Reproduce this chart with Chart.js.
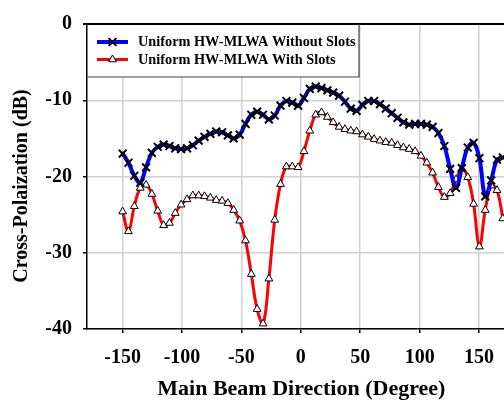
<!DOCTYPE html>
<html><head><meta charset="utf-8">
<script src="https://cdn.jsdelivr.net/npm/chart.js@4/dist/chart.umd.min.js"></script>
<style>html,body{margin:0;padding:0;background:#fff}#wrap{width:504px;height:400px}</style>
</head><body><div id="wrap"><canvas id="c" width="504" height="400"></canvas></div>
<script>
const angles = [-150,-145.1,-140.2,-135.2,-130.3,-125.4,-120.5,-115.5,-110.6,-105.7,
  -100.8,-95.8,-90.9,-86,-81.1,-76.2,-71.2,-66.3,-61.4,-56.5,
  -51.5,-46.6,-41.7,-36.8,-31.8,-26.9,-22,-17.1,-12.2,-7.2,
  -2.3,2.6,7.5,12.5,17.4,22.3,27.2,32.2,37.1,42,
  46.9,51.8,56.8,61.7,66.6,71.5,76.5,81.4,86.3,91.2,
  96.2,101.1,106,110.9,115.8,120.8,125.7,130.6,135.5,140.5,
  145.4,150.3,155.2,160.2,165.1,170];
const withoutSlots = [-17.0,-18.2,-19.9,-20.8,-18.8,-16.9,-16.1,-15.8,-16.0,-16.3,
  -16.4,-16.3,-15.9,-15.3,-14.8,-14.4,-14.1,-14.2,-14.6,-15.0,
  -14.5,-13.1,-11.9,-11.5,-11.9,-12.5,-12.0,-10.7,-10.1,-10.3,
  -10.7,-9.7,-8.5,-8.2,-8.4,-8.7,-9.0,-9.4,-10.2,-11.1,
  -11.4,-10.6,-10.1,-10.1,-10.5,-11.1,-11.7,-12.3,-12.9,-13.2,
  -13.1,-13.1,-13.2,-13.5,-14.3,-16.0,-19.0,-21.5,-18.9,-16.2,
  -15.6,-17.6,-22.6,-20.5,-17.8,-17.5];
const withSlots = [-24.6,-27.2,-23.9,-21.5,-21.1,-22.3,-24.5,-26.4,-26.1,-24.8,
  -23.7,-23.0,-22.5,-22.5,-22.6,-22.8,-23.1,-23.2,-23.5,-24.4,
  -25.8,-28.4,-32.8,-37.4,-39.3,-33.4,-25.7,-21.0,-18.7,-18.7,
  -18.8,-16.7,-14.0,-11.9,-11.6,-12.2,-12.9,-13.5,-13.8,-14.0,
  -14.1,-14.5,-14.8,-15.1,-15.3,-15.5,-15.6,-15.9,-16.2,-16.4,
  -16.7,-17.3,-18.2,-19.5,-21.4,-22.7,-22.2,-20.4,-19.0,-20.1,
  -23.6,-29.2,-24.4,-21.2,-21.8,-25.5];
const xTickValues = [-150,-100,-50,0,50,100,150];
const yTickValues = [0,-10,-20,-30,-40];
const seriesLabels = ['Uniform HW-MLWA Without Slots','Uniform HW-MLWA With Slots'];
const xTitle = 'Main Beam Direction (Degree)';
const yTitle = 'Cross-Polaization (dB)';

const FONT = '"Liberation Serif", "Times New Roman", serif';
const gridColor = 'rgb(208,208,208)';

const toPts = (ys) => ys.map((y, i) => ({x: angles[i], y}));

const frameLegend = {
  id: 'frameLegend',
  afterDraw(chart) {
    const ctx = chart.ctx, a = chart.chartArea;
    ctx.save();
    ctx.strokeStyle = '#000'; ctx.lineWidth = 2;
    ctx.beginPath(); ctx.moveTo(a.left - 4, a.top); ctx.lineTo(a.right, a.top); ctx.stroke();
    // axis titles
    ctx.fillStyle = '#000';
    ctx.textAlign = 'center'; ctx.textBaseline = 'middle';
    ctx.font = 'bold 22px ' + FONT;
    ctx.fillText(xTitle, chart.scales.x.getPixelForValue(0) + 0.5, 389);
    ctx.save();
    ctx.translate(22, 186); ctx.rotate(-Math.PI / 2);
    ctx.font = 'bold 20px ' + FONT;
    ctx.fillText(yTitle, 0, 0);
    ctx.restore();
    // legend
    const bx = a.left, by = a.top, bw = 272, bh = 53;
    ctx.fillStyle = '#fff';
    ctx.fillRect(bx + 1, by + 1, bw - 1, bh - 1);
    ctx.strokeStyle = '#444'; ctx.lineWidth = 1.2;
    ctx.beginPath(); ctx.moveTo(bx, by + bh); ctx.lineTo(bx + bw, by + bh); ctx.lineTo(bx + bw, by); ctx.stroke();
    const items = chart.data.datasets;
    const rows = [by + 18, by + 35.5];
    items.forEach((ds, i) => {
      const y = rows[i], cx = bx + 25.5;
      ctx.strokeStyle = ds.borderColor; ctx.lineWidth = ds.borderWidth;
      ctx.beginPath(); ctx.moveTo(bx + 10, y); ctx.lineTo(bx + 41, y); ctx.stroke();
      ctx.fillStyle = ds.pointBackgroundColor; ctx.strokeStyle = ds.pointBorderColor;
      ctx.lineWidth = ds.pointBorderWidth;
      ctx.beginPath();
      if (ds.pointStyle === 'triangle') {
        const r = ds.pointRadius, s = r * Math.sqrt(3) / 2;
        ctx.moveTo(cx, y - r); ctx.lineTo(cx + s, y + r / 2); ctx.lineTo(cx - s, y + r / 2); ctx.closePath();
        ctx.fill(); ctx.stroke();
      } else {
        const d = ds.pointRadius * Math.SQRT1_2;
        ctx.moveTo(cx - d, y - d); ctx.lineTo(cx + d, y + d);
        ctx.moveTo(cx + d, y - d); ctx.lineTo(cx - d, y + d); ctx.stroke();
      }
      ctx.fillStyle = '#000';
      ctx.font = 'bold 14.3px ' + FONT;
      ctx.textBaseline = 'middle'; ctx.textAlign = 'left';
      ctx.fillText(ds.label, bx + 51, y + 0.5);
    });
    ctx.restore();
  }
};

const noPad = s => { s.paddingLeft = 0; s.paddingRight = 0; s.paddingTop = 0; s.paddingBottom = 0; };

new Chart(document.getElementById('c'), {
  type: 'line',
  data: {
    datasets: [
      {label: seriesLabels[0], data: toPts(withoutSlots), borderColor: '#0000FF', borderWidth: 4,
       pointStyle: 'crossRot', pointRadius: 5.5, pointBorderColor: '#000', pointBackgroundColor: '#000',
       pointBorderWidth: 2, tension: 0.4, fill: false},
      {label: seriesLabels[1], data: toPts(withSlots), borderColor: '#FF0000', borderWidth: 3,
       pointStyle: 'triangle', pointRadius: 4.5, pointBorderColor: '#000', pointBackgroundColor: '#fff',
       pointBorderWidth: 1, tension: 0.4, fill: false}
    ]
  },
  options: {
    responsive: false, animation: false, devicePixelRatio: 1,
    layout: {autoPadding: false, padding: {top: 24, left: 0, right: 0, bottom: 0}},
    plugins: {legend: {display: false}, tooltip: {enabled: false}},
    scales: {
      x: {
        type: 'linear', min: -180, max: 171,
        afterBuildTicks: s => { s.ticks = xTickValues.map(v => ({value: v})); },
        afterFit: s => { s.height = 71; noPad(s); },
        ticks: {color: '#000', font: {family: FONT, size: 20, weight: 'bold'}, padding: 13, maxRotation: 0},
        grid: {color: gridColor, lineWidth: 1.5, tickLength: 4, tickColor: '#000', tickWidth: 1.5},
        border: {color: '#000', width: 1.5},
        title: {display: false, text: xTitle}
      },
      y: {
        min: -40, max: 0,
        afterBuildTicks: s => { s.ticks = yTickValues.map(v => ({value: v})); },
        afterFit: s => { s.width = 87; noPad(s); },
        ticks: {color: '#000', font: {family: FONT, size: 20, weight: 'bold'}, padding: 11},
        grid: {color: gridColor, lineWidth: 1.5, tickLength: 4, tickColor: '#000', tickWidth: 1.5},
        border: {color: '#000', width: 1.5},
        title: {display: false, text: yTitle}
      }
    }
  },
  plugins: [frameLegend]
});
</script></body></html>
